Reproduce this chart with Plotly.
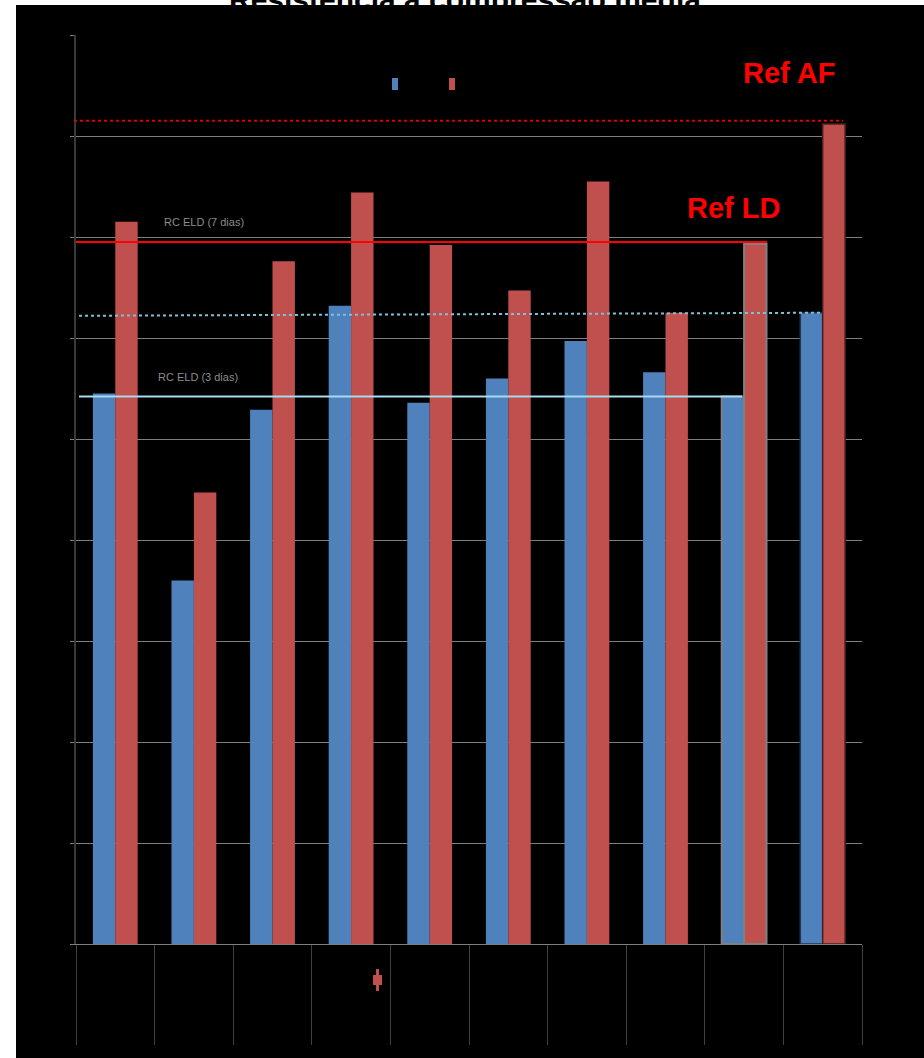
import plotly.graph_objects as go

# Chart data
categories = ["1", "2", "3", "4", "5", "6", "7", "8", "9", "10"]
serie_a = [5.45, 3.60, 5.29, 6.32, 5.36, 5.60, 5.97, 5.66, 5.42, 6.25]
serie_b = [7.15, 4.47, 6.76, 7.44, 6.92, 6.47, 7.55, 6.25, 6.93, 8.12]

# Reference levels
ref_af = 8.15
ref_ld = 6.95
rc_eld_7 = [6.22, 6.25]   # start / end of the 7-day line
rc_eld_3 = 5.42

y_ticks = list(range(0, 10))

BLUE = "#4f81bd"
RED = "#c0504d"
GRID = "#7f7f7f"

# px -> paper helpers for decorations (plot area: x 76..862, y 35..944)
def px_x(px):
    return (px - 76) / 786.0

def px_y(py):
    return (944 - py) / 909.0

line_w_a = [0] * 8 + [2, 1.5]
line_c_a = ["rgba(0,0,0,0)"] * 8 + ["#808080", "#1f3550"]
line_w_b = [0] * 8 + [2, 1.5]
line_c_b = ["rgba(0,0,0,0)"] * 8 + ["#808080", "#4a1f1e"]

fig = go.Figure()
fig.add_trace(go.Bar(
    x=categories, y=serie_a, name="Série 1",
    marker=dict(color=BLUE, line=dict(width=line_w_a, color=line_c_a)),
))
fig.add_trace(go.Bar(
    x=categories, y=serie_b, name="Série 2",
    marker=dict(color=RED, line=dict(width=line_w_b, color=line_c_b)),
))

shapes = []
# black panel behind everything
shapes.append(dict(type="rect", xref="paper", yref="paper",
                   x0=px_x(16), x1=px_x(930), y0=px_y(1064), y1=px_y(5),
                   fillcolor="black", line=dict(width=0), layer="below"))

# reference lines
shapes.append(dict(type="line", xref="paper", yref="y",
                   x0=px_x(74), x1=px_x(843), y0=ref_af, y1=ref_af,
                   line=dict(color="#e00000", width=2, dash="dot")))
shapes.append(dict(type="line", xref="paper", yref="y",
                   x0=px_x(76), x1=px_x(767), y0=ref_ld, y1=ref_ld,
                   line=dict(color="#ff0000", width=2)))
shapes.append(dict(type="line", xref="paper", yref="y",
                   x0=px_x(79), x1=px_x(820), y0=rc_eld_7[0], y1=rc_eld_7[1],
                   line=dict(color="#7fc0d8", width=2, dash="dot")))
shapes.append(dict(type="line", xref="paper", yref="y",
                   x0=px_x(79), x1=px_x(742), y0=rc_eld_3, y1=rc_eld_3,
                   line=dict(color="#a6dcee", width=2)))

# legend keys
shapes.append(dict(type="rect", xref="paper", yref="paper",
                   x0=px_x(392), x1=px_x(398), y0=px_y(90), y1=px_y(78),
                   fillcolor=BLUE, line=dict(width=0)))
shapes.append(dict(type="rect", xref="paper", yref="paper",
                   x0=px_x(449), x1=px_x(455), y0=px_y(90), y1=px_y(78),
                   fillcolor=RED, line=dict(width=0)))

# small marker under the axis
shapes.append(dict(type="rect", xref="paper", yref="paper",
                   x0=px_x(373), x1=px_x(382), y0=px_y(985), y1=px_y(975),
                   fillcolor=RED, line=dict(width=0)))
shapes.append(dict(type="rect", xref="paper", yref="paper",
                   x0=px_x(376), x1=px_x(379), y0=px_y(991), y1=px_y(969),
                   fillcolor=RED, line=dict(width=0)))

annotations = [
    dict(text="<b>Resistência à compressão média</b>", x=px_x(465), y=px_y(0),
         xref="paper", yref="paper", showarrow=False, xanchor="center", yanchor="middle",
         font=dict(family="Liberation Sans, Arial, sans-serif", size=30, color="black")),
    dict(text="<b>Ref AF</b>", x=px_x(789), y=px_y(73),
         xref="paper", yref="paper", showarrow=False, xanchor="center", yanchor="middle",
         font=dict(family="Liberation Sans, Arial, sans-serif", size=29, color="#ff0000")),
    dict(text="<b>Ref LD</b>", x=px_x(733), y=px_y(208),
         xref="paper", yref="paper", showarrow=False, xanchor="center", yanchor="middle",
         font=dict(family="Liberation Sans, Arial, sans-serif", size=29, color="#ff0000")),
    dict(text="RC ELD (7 dias)", x=px_x(204), y=px_y(222),
         xref="paper", yref="paper", showarrow=False, xanchor="center", yanchor="middle",
         font=dict(family="Liberation Sans Narrow, Arial Narrow, sans-serif", size=11, color="#8c8c8c")),
    dict(text="RC ELD (3 dias)", x=px_x(198), y=px_y(377),
         xref="paper", yref="paper", showarrow=False, xanchor="center", yanchor="middle",
         font=dict(family="Liberation Sans Narrow, Arial Narrow, sans-serif", size=11, color="#8c8c8c")),
]

fig.update_layout(
    width=924, height=1058,
    margin=dict(l=76, r=62, t=35, b=114),
    paper_bgcolor="white",
    plot_bgcolor="black",
    showlegend=False,
    barmode="group",
    bargap=0.43,
    bargroupgap=0,
    shapes=shapes,
    annotations=annotations,
    xaxis=dict(
        type="category", range=[-0.5, 9.5],
        showgrid=False, zeroline=False,
        showline=True, linecolor=GRID, linewidth=1,
        ticks="outside", tickson="boundaries", ticklen=100,
        tickcolor="#404040", tickwidth=1,
        tickfont=dict(color="black", size=12),
    ),
    yaxis=dict(
        range=[0, 9], tickvals=y_ticks,
        showgrid=True, gridcolor=GRID, gridwidth=1,
        zeroline=False,
        showline=True, linecolor="#3a3a3a", linewidth=2,
        ticks="outside", ticklen=4, tickcolor=GRID,
        tickfont=dict(color="black", size=12),
    ),
)

fig.write_html("out.html")
